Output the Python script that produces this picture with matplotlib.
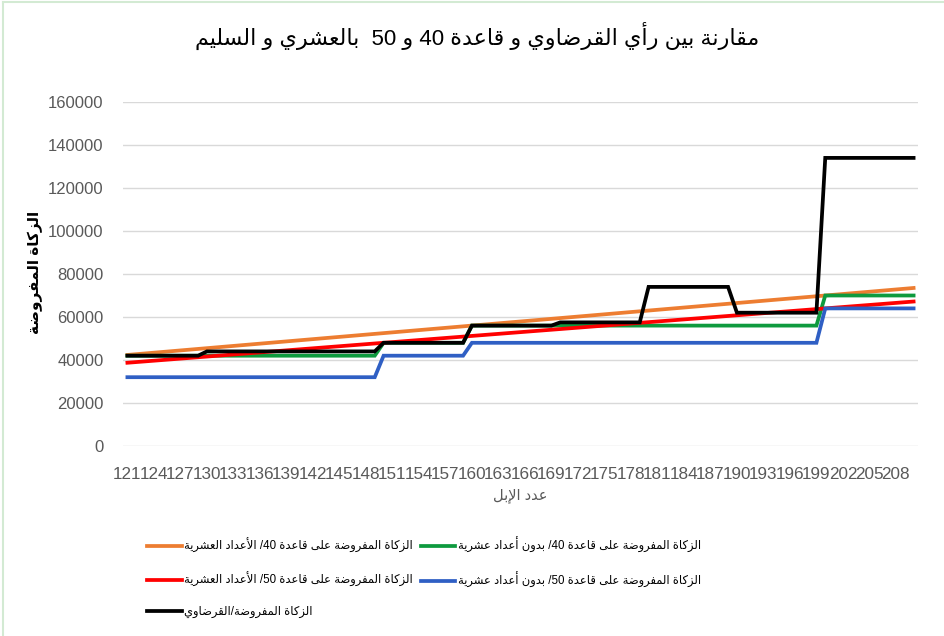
import re
import matplotlib
matplotlib.use('Agg')
import matplotlib.pyplot as plt
from matplotlib.lines import Line2D

# number of camels (x categories)
camels = list(range(121, 211))

# zakat on base 40 with fractions (orange)
base40_fraction = [
    42350, 42700, 43050, 43400, 43750, 44100, 44450, 44800, 45150, 45500,
    45850, 46200, 46550, 46900, 47250, 47600, 47950, 48300, 48650, 49000,
    49350, 49700, 50050, 50400, 50750, 51100, 51450, 51800, 52150, 52500,
    52850, 53200, 53550, 53900, 54250, 54600, 54950, 55300, 55650, 56000,
    56350, 56700, 57050, 57400, 57750, 58100, 58450, 58800, 59150, 59500,
    59850, 60200, 60550, 60900, 61250, 61600, 61950, 62300, 62650, 63000,
    63350, 63700, 64050, 64400, 64750, 65100, 65450, 65800, 66150, 66500,
    66850, 67200, 67550, 67900, 68250, 68600, 68950, 69300, 69650, 70000,
    70350, 70700, 71050, 71400, 71750, 72100, 72450, 72800, 73150, 73500,
]

# zakat on base 40 without fractions (green)
base40_whole = [
    42000, 42000, 42000, 42000, 42000, 42000, 42000, 42000, 42000, 42000,
    42000, 42000, 42000, 42000, 42000, 42000, 42000, 42000, 42000, 42000,
    42000, 42000, 42000, 42000, 42000, 42000, 42000, 42000, 42000, 48000,
    48000, 48000, 48000, 48000, 48000, 48000, 48000, 48000, 48000, 56000,
    56000, 56000, 56000, 56000, 56000, 56000, 56000, 56000, 56000, 56000,
    56000, 56000, 56000, 56000, 56000, 56000, 56000, 56000, 56000, 56000,
    56000, 56000, 56000, 56000, 56000, 56000, 56000, 56000, 56000, 56000,
    56000, 56000, 56000, 56000, 56000, 56000, 56000, 56000, 56000, 70000,
    70000, 70000, 70000, 70000, 70000, 70000, 70000, 70000, 70000, 70000,
]

# zakat on base 50 with fractions (red)
base50_fraction = [
    38720, 39040, 39360, 39680, 40000, 40320, 40640, 40960, 41280, 41600,
    41920, 42240, 42560, 42880, 43200, 43520, 43840, 44160, 44480, 44800,
    45120, 45440, 45760, 46080, 46400, 46720, 47040, 47360, 47680, 48000,
    48320, 48640, 48960, 49280, 49600, 49920, 50240, 50560, 50880, 51200,
    51520, 51840, 52160, 52480, 52800, 53120, 53440, 53760, 54080, 54400,
    54720, 55040, 55360, 55680, 56000, 56320, 56640, 56960, 57280, 57600,
    57920, 58240, 58560, 58880, 59200, 59520, 59840, 60160, 60480, 60800,
    61120, 61440, 61760, 62080, 62400, 62720, 63040, 63360, 63680, 64000,
    64320, 64640, 64960, 65280, 65600, 65920, 66240, 66560, 66880, 67200,
]

# zakat on base 50 without fractions (blue)
base50_whole = [
    32000, 32000, 32000, 32000, 32000, 32000, 32000, 32000, 32000, 32000,
    32000, 32000, 32000, 32000, 32000, 32000, 32000, 32000, 32000, 32000,
    32000, 32000, 32000, 32000, 32000, 32000, 32000, 32000, 32000, 42000,
    42000, 42000, 42000, 42000, 42000, 42000, 42000, 42000, 42000, 48000,
    48000, 48000, 48000, 48000, 48000, 48000, 48000, 48000, 48000, 48000,
    48000, 48000, 48000, 48000, 48000, 48000, 48000, 48000, 48000, 48000,
    48000, 48000, 48000, 48000, 48000, 48000, 48000, 48000, 48000, 48000,
    48000, 48000, 48000, 48000, 48000, 48000, 48000, 48000, 48000, 64000,
    64000, 64000, 64000, 64000, 64000, 64000, 64000, 64000, 64000, 64000,
]

# zakat according to al-Qaradawi (black)
qaradawi = [
    42000, 42000, 42000, 42000, 42000, 42000, 42000, 42000, 42000, 44000,
    44000, 44000, 44000, 44000, 44000, 44000, 44000, 44000, 44000, 44000,
    44000, 44000, 44000, 44000, 44000, 44000, 44000, 44000, 44000, 48000,
    48000, 48000, 48000, 48000, 48000, 48000, 48000, 48000, 48000, 56000,
    56000, 56000, 56000, 56000, 56000, 56000, 56000, 56000, 56000, 57500,
    57500, 57500, 57500, 57500, 57500, 57500, 57500, 57500, 57500, 74000,
    74000, 74000, 74000, 74000, 74000, 74000, 74000, 74000, 74000, 62000,
    62000, 62000, 62000, 62000, 62000, 62000, 62000, 62000, 62000, 134000,
    134000, 134000, 134000, 134000, 134000, 134000, 134000, 134000, 134000, 134000,
]

y_ticks = [0, 20000, 40000, 60000, 80000, 100000, 120000, 140000, 160000]

title = 'مقارنة بين رأي القرضاوي و قاعدة 40 و 50  بالعشري و السليم'
x_title = 'عدد الإبل'
y_title = 'الزكاة المفروضة'
labels = [
    'الزكاة المفروضة على قاعدة 40/ الأعداد العشرية',
    'الزكاة المفروضة على قاعدة 40/ بدون أعداد عشرية',
    'الزكاة المفروضة على قاعدة 50/ الأعداد العشرية',
    'الزكاة المفروضة على قاعدة 50/ بدون أعداد عشرية',
    'الزكاة المفروضة/القرضاوي',
]
colors = ['#ED7D31', '#0E9A3E', '#FF0000', '#2F5FC4', '#000000']

# --- minimal arabic shaping (matplotlib has no bidi / joining support) ---
FORMS = {
    'ا': ('\uFE8D', '\uFE8E', None, None),
    'أ': ('\uFE83', '\uFE84', None, None),
    'إ': ('\uFE87', '\uFE88', None, None),
    'آ': ('\uFE81', '\uFE82', None, None),
    'ب': ('\uFE8F', '\uFE90', '\uFE91', '\uFE92'),
    'ة': ('\uFE93', '\uFE94', None, None),
    'د': ('\uFEA9', '\uFEAA', None, None),
    'ر': ('\uFEAD', '\uFEAE', None, None),
    'ز': ('\uFEAF', '\uFEB0', None, None),
    'س': ('\uFEB1', '\uFEB2', '\uFEB3', '\uFEB4'),
    'ش': ('\uFEB5', '\uFEB6', '\uFEB7', '\uFEB8'),
    'ض': ('\uFEBD', '\uFEBE', '\uFEBF', '\uFEC0'),
    'ع': ('\uFEC9', '\uFECA', '\uFECB', '\uFECC'),
    'ف': ('\uFED1', '\uFED2', '\uFED3', '\uFED4'),
    'ق': ('\uFED5', '\uFED6', '\uFED7', '\uFED8'),
    'ك': ('\uFED9', '\uFEDA', '\uFEDB', '\uFEDC'),
    'ل': ('\uFEDD', '\uFEDE', '\uFEDF', '\uFEE0'),
    'م': ('\uFEE1', '\uFEE2', '\uFEE3', '\uFEE4'),
    'ن': ('\uFEE5', '\uFEE6', '\uFEE7', '\uFEE8'),
    'و': ('\uFEED', '\uFEEE', None, None),
    'ى': ('\uFEEF', '\uFEF0', None, None),
    'ي': ('\uFEF1', '\uFEF2', '\uFEF3', '\uFEF4'),
}
LAM_ALEF = {'ا': ('\uFEFB', '\uFEFC'), 'أ': ('\uFEF7', '\uFEF8'),
            'إ': ('\uFEF9', '\uFEFA'), 'آ': ('\uFEF5', '\uFEF6')}


def shape(text):
    units = []
    i = 0
    while i < len(text):
        if text[i] == 'ل' and i + 1 < len(text) and text[i + 1] in LAM_ALEF:
            units.append(('LA', text[i + 1]))
            i += 2
        else:
            units.append((text[i], None))
            i += 1
    out = []
    for k, (c, alef) in enumerate(units):
        prev = units[k - 1][0] if k > 0 else None
        nxt = units[k + 1][0] if k + 1 < len(units) else None
        joins_prev = prev in FORMS and FORMS[prev][2] is not None
        if c == 'LA':
            out.append(LAM_ALEF[alef][1] if joins_prev else LAM_ALEF[alef][0])
            continue
        if c not in FORMS:
            out.append(c)
            continue
        iso, fin, ini, med = FORMS[c]
        joins_next = ini is not None and (nxt == 'LA' or nxt in FORMS)
        if joins_prev and joins_next:
            out.append(med)
        elif joins_prev:
            out.append(fin)
        elif joins_next:
            out.append(ini)
        else:
            out.append(iso)
    return ''.join(out)


def rtl(text):
    rev = shape(text)[::-1]
    return re.sub(r'\d+', lambda m: m.group(0)[::-1], rev)


plt.rcParams['font.family'] = ['Liberation Sans', 'DejaVu Sans']

fig = plt.figure(figsize=(9.44, 6.36), dpi=100)
W, H = 944, 636
ax = fig.add_axes([123 / W, 1 - 446 / H, (918 - 123) / W, (446 - 102) / H])

x = list(range(len(camels)))
series = [base40_fraction, base40_whole, base50_fraction, base50_whole, qaradawi]
handles = []
for vals, col, lab in zip(series, colors, labels):
    h, = ax.plot(x, vals, color=col, lw=2.7, solid_joinstyle='miter', label=rtl(lab))
    handles.append(h)

ax.set_xlim(-0.5, len(camels) - 0.5)
ax.set_ylim(0, 160000)
ax.set_yticks(y_ticks)
ax.set_yticklabels([str(v) for v in y_ticks])
ax.set_xticks(x[::3])
ax.set_xticklabels([str(c) for c in camels[::3]])
ax.tick_params(axis='both', length=0, colors='#595959')
ax.tick_params(axis='y', pad=14, labelsize=12)
ax.tick_params(axis='x', pad=15, labelsize=12.3)
ax.grid(axis='y', color='#d9d9d9', lw=1)
ax.set_axisbelow(True)
for s in ax.spines.values():
    s.set_visible(False)

fig.text(477 / W, 1 - 36 / H, rtl(title), ha='center', va='center', fontsize=16, color='#000000')
fig.text(520 / W, 1 - 496 / H, rtl(x_title), ha='center', va='center', fontsize=10.5, color='#595959')
fig.text(35 / W, 1 - 272 / H, rtl(y_title), ha='center', va='center', rotation=90,
         fontsize=11, fontweight='bold', color='#000000')

# excel fills legend row-wise, matplotlib column-wise
order = [0, 2, 4, 1, 3]
ax.legend([handles[i] for i in order], [handles[i].get_label() for i in order],
          ncol=2, frameon=False, fontsize=8.3, loc='upper left',
          bbox_to_anchor=(147 / W, 1 - 537 / H), bbox_transform=fig.transFigure,
          borderpad=0, borderaxespad=0, handlelength=3.0, handletextpad=0.2,
          labelspacing=1.65, columnspacing=0.7)

# chart area border (left and top edge visible in the screenshot)
fig.add_artist(Line2D([2.5 / W, 2.5 / W], [0, 1 - 1.5 / H], color='#d3ead3', lw=1.5))
fig.add_artist(Line2D([2.5 / W, 1], [1 - 1.5 / H, 1 - 1.5 / H], color='#d3ead3', lw=1.5))

fig.savefig('out.png', dpi=100)
